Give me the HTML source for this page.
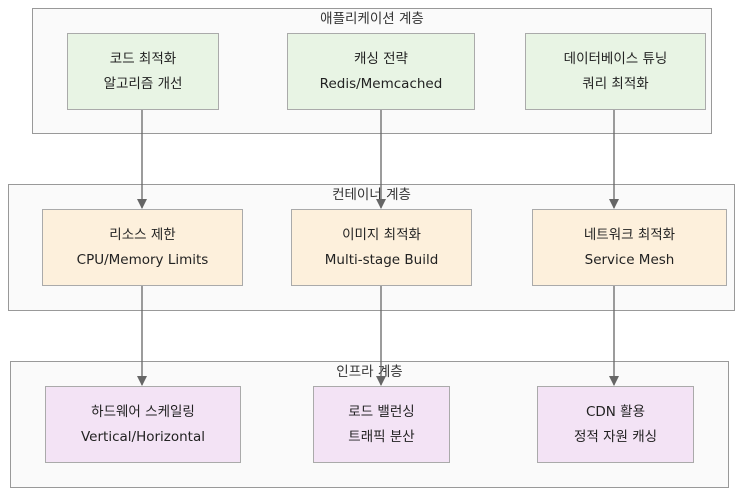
<!DOCTYPE html>
<html><head><meta charset="utf-8"><style>
body{margin:0;width:756px;height:500px;background:#fff;position:relative;font-family:"DejaVu Sans","Noto Sans CJK KR",sans-serif;color:#333;overflow:hidden}
.g{position:absolute;border:1.5px solid #999;background:#fafafa;box-sizing:border-box}
.gt{position:absolute;left:0;right:0;top:1px;text-align:center;font-size:13.5px;line-height:18px}
.n{position:absolute;box-sizing:border-box;border:1.5px solid #aaa;display:flex;flex-direction:column;justify-content:center;align-items:center;font-size:13.5px;line-height:25px;color:#222}
.a{background:#e8f4e4}.b{background:#fdf0dc}.c{background:#f3e3f5}
svg{position:absolute;left:0;top:0}
</style></head><body>
<div class="g" style="left:32px;top:8px;width:680px;height:126px"><div class="gt">애플리케이션 계층</div></div>
<div class="g" style="left:8px;top:184px;width:727px;height:127px"><div class="gt">컨테이너 계층</div></div>
<div class="g" style="left:10px;top:361px;width:719px;height:127px"><div class="gt">인프라 계층</div></div>
<svg width="756" height="500"><defs><marker id="m" markerWidth="10" markerHeight="10" refX="9" refY="5" orient="auto" markerUnits="userSpaceOnUse"><path d="M0,0L10,5L0,10z" fill="#666"/></marker></defs>
<g stroke="#666" stroke-width="1.3" fill="none" marker-end="url(#m)">
<line x1="142" y1="109" x2="142" y2="208"/><line x1="381" y1="109" x2="381" y2="208"/><line x1="614" y1="109" x2="614" y2="208"/>
<line x1="142" y1="285" x2="142" y2="385"/><line x1="381" y1="285" x2="381" y2="385"/><line x1="614" y1="285" x2="614" y2="385"/>
</g></svg>
<div class="n a" style="left:67px;top:33px;width:152px;height:77px"><div>코드 최적화</div><div>알고리즘 개선</div></div>
<div class="n a" style="left:287px;top:33px;width:188px;height:77px"><div>캐싱 전략</div><div>Redis/Memcached</div></div>
<div class="n a" style="left:525px;top:33px;width:181px;height:77px"><div>데이터베이스 튜닝</div><div>쿼리 최적화</div></div>
<div class="n b" style="left:42px;top:209px;width:201px;height:77px"><div>리소스 제한</div><div>CPU/Memory Limits</div></div>
<div class="n b" style="left:291px;top:209px;width:181px;height:77px"><div>이미지 최적화</div><div>Multi-stage Build</div></div>
<div class="n b" style="left:532px;top:209px;width:195px;height:77px"><div>네트워크 최적화</div><div>Service Mesh</div></div>
<div class="n c" style="left:45px;top:386px;width:196px;height:77px"><div>하드웨어 스케일링</div><div>Vertical/Horizontal</div></div>
<div class="n c" style="left:313px;top:386px;width:137px;height:77px"><div>로드 밸런싱</div><div>트래픽 분산</div></div>
<div class="n c" style="left:537px;top:386px;width:157px;height:77px"><div>CDN 활용</div><div>정적 자원 캐싱</div></div>
</body></html>
